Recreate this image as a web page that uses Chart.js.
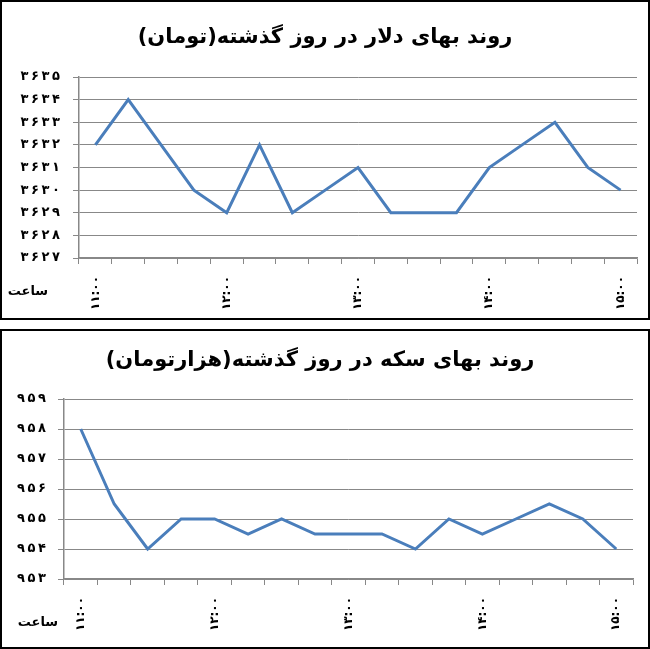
<!DOCTYPE html>
<html>
<head>
<meta charset="utf-8">
<script src="https://cdn.jsdelivr.net/npm/chart.js@4.4.1/dist/chart.umd.min.js"></script>
<style>
  body { margin: 0; background: #fff; }
  .box { position: absolute; left: 0; width: 650px; border: 2px solid #000; box-sizing: border-box; }
  canvas { position: absolute; left: 0; }
</style>
</head>
<body>
<div class="box" style="top:0; height:320px;"></div>
<div class="box" style="top:329px; height:320px;"></div>
<canvas id="dollarChart" width="650" height="320" style="top:0;"></canvas>
<canvas id="coinChart" width="650" height="321" style="top:328px;"></canvas>
<script>
// time of day, every 15 minutes (only the full hours get a label)
const timeLabels = ['۱۱:۰۰', '۱۱:۱۵', '۱۱:۳۰', '۱۱:۴۵', '۱۲:۰۰', '۱۲:۱۵', '۱۲:۳۰', '۱۲:۴۵',
                    '۱۳:۰۰', '۱۳:۱۵', '۱۳:۳۰', '۱۳:۴۵', '۱۴:۰۰', '۱۴:۱۵', '۱۴:۳۰', '۱۴:۴۵', '۱۵:۰۰'];

// dollar price (toman)
const dollarPrices = [3632, 3634, 3632, 3630, 3629, 3632, 3629, 3630, 3631,
                      3629, 3629, 3629, 3631, 3632, 3633, 3631, 3630];

// gold coin price (thousand toman)
const coinPrices = [958, 955.5, 954, 955, 955, 954.5, 955, 954.5, 954.5,
                    954.5, 954, 955, 954.5, 955, 955.5, 955, 954];

const dollarTitle = 'روند بهای دلار در روز گذشته(تومان)';
const coinTitle = 'روند بهای سکه در روز گذشته(هزارتومان)';
const axisCaption = 'ساعت';

const FONT = '"DejaVu Sans", sans-serif';
const faDigits = '۰۱۲۳۴۵۶۷۸۹';
// Persian digits, a thin space between them like the original axis
const toPersian = (n) => String(n).split('').map(d => faDigits[d]).join('\u2009');

// Title + "hour" caption drawn straight onto the canvas
const captionPlugin = {
    id: 'captions',
    afterDraw(chart, args, opts) {
        const ctx = chart.ctx;
        ctx.save();
        ctx.direction = 'rtl';
        ctx.fillStyle = '#000';
        ctx.textAlign = 'center';
        ctx.textBaseline = 'middle';
        ctx.font = 'bold 21px ' + FONT;
        ctx.fillText(opts.title, opts.titleX, opts.titleY);
        ctx.font = 'bold 13px ' + FONT;
        ctx.fillText(axisCaption, opts.captionX, opts.captionY);
        ctx.restore();
    }
};

function makeChart(id, values, yMin, yMax, title, frame) {
    const ctx = document.getElementById(id).getContext('2d');
    return new Chart(ctx, {
        type: 'line',
        data: {
            labels: timeLabels,
            datasets: [{
                data: values,
                borderColor: '#4A7EBB',
                borderWidth: 3,
                pointRadius: 0,
                tension: 0,
                fill: false
            }]
        },
        options: {
            responsive: false,
            animation: false,
            layout: {
                padding: { top: frame.top, right: frame.right, left: 0, bottom: 0 }
            },
            plugins: {
                legend: { display: false },
                tooltip: { enabled: false },
                captions: {
                    title: title,
                    titleX: frame.titleX,
                    titleY: frame.titleY,
                    captionX: frame.captionX,
                    captionY: frame.captionY
                }
            },
            scales: {
                x: {
                    offset: true,
                    grid: {
                        offset: true,
                        drawOnChartArea: false,
                        tickLength: 6,
                        color: '#888'
                    },
                    border: { color: '#888', width: 1.5 },
                    ticks: {
                        autoSkip: false,
                        minRotation: 90,
                        maxRotation: 90,
                        padding: 12,
                        color: '#000',
                        font: { family: FONT, size: 12, weight: 'bold' },
                        callback: function(value) {
                            const label = this.getLabelForValue(value);
                            return label.endsWith(':۰۰') ? label : '';
                        }
                    },
                    afterFit(scale) { scale.height = frame.xHeight; }
                },
                y: {
                    min: yMin,
                    max: yMax,
                    grid: { color: '#888', tickLength: 6 },
                    border: { color: '#888', width: 1.5 },
                    ticks: {
                        stepSize: 1,
                        padding: frame.yPad,
                        color: '#000',
                        font: { family: FONT, size: 13, weight: 'bold' },
                        callback: (v) => toPersian(v)
                    },
                    afterFit(scale) { scale.width = frame.yWidth; }
                }
            }
        },
        plugins: [captionPlugin]
    });
}

// 1. Dollar chart
makeChart('dollarChart', dollarPrices, 3627, 3635, dollarTitle, {
    top: 77, right: 13, xHeight: 62, yWidth: 79, yPad: 13,
    titleX: 325, titleY: 38, captionX: 28, captionY: 292
});

// 2. Coin chart
makeChart('coinChart', coinPrices, 953, 959, coinTitle, {
    top: 71, right: 17, xHeight: 70, yWidth: 64, yPad: 12,
    titleX: 320, titleY: 33, captionX: 38, captionY: 295
});
</script>
</body>
</html>
